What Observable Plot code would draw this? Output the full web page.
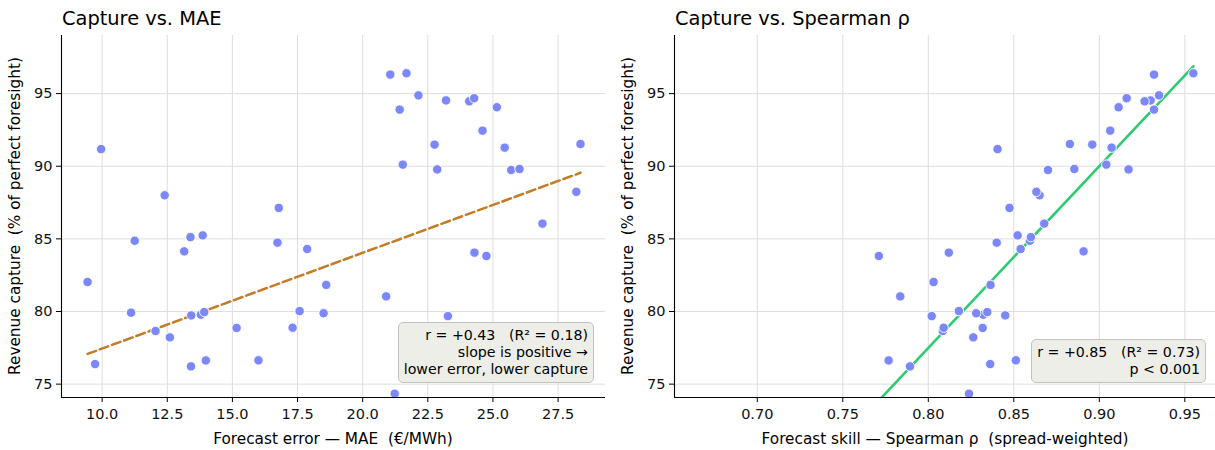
<!DOCTYPE html>
<html><head><meta charset="utf-8">
<script src="https://cdn.jsdelivr.net/npm/d3@7"></script>
<script src="https://cdn.jsdelivr.net/npm/@observablehq/plot@0.6"></script>
<style>
body{margin:0;background:#fff;font-family:"DejaVu Sans",sans-serif;}
#wrap{position:relative;width:1215px;height:450px;overflow:hidden;background:#fff;}
.panel{position:absolute;top:0;}
.panel svg{max-width:none !important;}
.abs{position:absolute;white-space:pre;color:#000;line-height:1;}
.title{font-size:19.4px;}
.xlab{font-size:15.3px;transform:translate(-50%,-50%);}
.ylab{font-size:15.3px;transform:translate(-50%,-50%) rotate(-90deg);}
.box{position:absolute;background:#eeeee9;border:1.3px solid #c2c2be;border-radius:5px;font-size:14.2px;text-align:right;line-height:17px;padding:4px 5px 4px 5px;white-space:pre;color:#000;}
</style>
</head><body>
<div id="wrap">
  <div class="abs title" style="left:62px;top:9px;">Capture vs. MAE</div>
  <div class="abs title" style="left:675px;top:9px;">Capture vs. Spearman ρ</div>
  <div id="left" class="panel" style="left:0px;width:607px;"></div>
  <div id="right" class="panel" style="left:607px;width:620px;"></div>
  <div class="abs ylab" style="left:16px;top:216px;">Revenue capture  (% of perfect foresight)</div>
  <div class="abs ylab" style="left:629px;top:216px;">Revenue capture  (% of perfect foresight)</div>
  <div class="abs xlab" style="left:333px;top:440px;">Forecast error — MAE  (€/MWh)</div>
  <div class="abs xlab" style="left:945px;top:440px;">Forecast skill — Spearman ρ  (spread-weighted)</div>
  <div class="box" style="right:621px;bottom:67px;">r = +0.43   (R² = 0.18)
slope is positive →
lower error, lower capture</div>
  <div class="box" style="right:9px;bottom:67px;">r = +0.85   (R² = 0.73)
p &lt; 0.001</div>
</div>
<script>
// Forecast error (MAE, €/MWh) per sample
const mae = [9.44, 9.73, 9.96, 11.11, 11.25, 12.05, 12.40, 12.60, 13.39, 13.86, 13.15, 13.42, 13.79, 13.92, 13.41, 13.98,
  15.16, 16.00, 16.78, 16.73, 17.87, 17.58, 17.31, 18.60, 18.50,
  21.06, 21.68, 22.14, 21.42, 23.20, 24.09, 24.28, 25.15, 24.60, 22.76, 21.54, 22.86, 25.45, 25.70, 26.02, 28.36, 28.20,
  26.90, 24.29, 24.75, 20.90, 23.27, 21.23];
// Forecast skill (Spearman rho, spread-weighted) per sample
const rho = [0.8031, 0.8362, 0.8405, 0.8340, 0.8594, 0.8085, 0.8651, 0.8263, 0.8600, 0.8522, 0.8908, 0.8450, 0.8322, 0.8345, 0.7893, 0.7768,
  0.8318, 0.8512, 0.8475, 0.8400, 0.8540, 0.8179, 0.8090, 0.8364, 0.8280,
  0.9320, 0.9550, 0.9349, 0.9320, 0.9300, 0.9265, 0.9160, 0.9113, 0.9064, 0.8959, 0.9041, 0.9171, 0.9072, 0.8700, 0.8854, 0.8828, 0.8632,
  0.8678, 0.8120, 0.7711, 0.7836, 0.8020, 0.8238];
// Revenue capture (% of perfect foresight) per sample
const capture = [82.03, 76.38, 91.18, 79.92, 84.87, 78.66, 88.00, 78.22, 85.12, 85.24, 84.14, 79.73, 79.78, 79.96, 76.22, 76.63,
  78.87, 76.64, 87.13, 84.74, 84.30, 80.03, 78.88, 81.83, 79.88,
  96.31, 96.40, 94.88, 93.90, 94.53, 94.47, 94.68, 94.06, 92.45, 91.49, 90.11, 89.78, 91.28, 89.74, 89.81, 91.53, 88.24,
  86.05, 84.05, 83.82, 81.04, 79.68, 74.34];

// Fitted trend lines: [intercept, slope]
const maeFit = [70.86, 0.659];
const rhoFit = [-22.59, 125.1];

const yTicks = [75, 80, 85, 90, 95];
const maeTicks = [10, 12.5, 15, 17.5, 20, 22.5, 25, 27.5];
const rhoTicks = [0.70, 0.75, 0.80, 0.85, 0.90, 0.95];

const rows = capture.map((c, i) => ({mae: mae[i], rho: rho[i], capture: c}));
const yDomain = [74.08, 99.0];

const fitRows = (xs, fit) => d3.extent(xs).map(x => ({x, y: fit[0] + fit[1] * x}));

function panel(xKey, xDomain, xTicks, fmt, width, ml, mr, regMark) {
  return Plot.plot({
    width, height: 450,
    marginLeft: ml, marginRight: mr, marginTop: 35, marginBottom: 53,
    style: {fontFamily: "DejaVu Sans", fontSize: "14.5px", color: "#111", background: "transparent", overflow: "visible", maxWidth: "none"},
    x: {domain: xDomain},
    y: {domain: yDomain},
    marks: [
      Plot.gridX(xTicks, {stroke: "#dedede", strokeOpacity: 1, strokeWidth: 1}),
      Plot.gridY(yTicks, {stroke: "#dedede", strokeOpacity: 1, strokeWidth: 1}),
      regMark,
      Plot.dot(rows, {x: xKey, y: "capture", r: 4.7, fill: "#7c88f9", stroke: "white", strokeWidth: 0.9}),
      Plot.ruleX([xDomain[0]], {stroke: "#000", strokeWidth: 1.1}),
      Plot.ruleY([yDomain[0]], {stroke: "#000", strokeWidth: 1.1}),
      Plot.axisX(xTicks, {tickSize: 5, tickPadding: 6, tickFormat: fmt, label: null, stroke: "#000"}),
      Plot.axisY(yTicks, {tickSize: 5, tickPadding: 4, tickFormat: d => String(d), label: null, stroke: "#000"})
    ]
  });
}

const leftReg = Plot.line(fitRows(mae, maeFit), {x: "x", y: "y", stroke: "#c47b26", strokeWidth: 2.5, strokeDasharray: "9,4"});
const rightReg = Plot.line(fitRows(rho, rhoFit), {x: "x", y: "y", stroke: "#2ecc71", strokeWidth: 2.6, clip: true});

document.getElementById("left").append(
  panel("mae", [8.44, 29.32], maeTicks, d3.format(".1f"), 607, 61, 2, leftReg)
);
document.getElementById("right").append(
  panel("rho", [0.6516, 0.9697], rhoTicks, d3.format(".2f"), 620, 67, 9, rightReg)
);
</script>
</body></html>
